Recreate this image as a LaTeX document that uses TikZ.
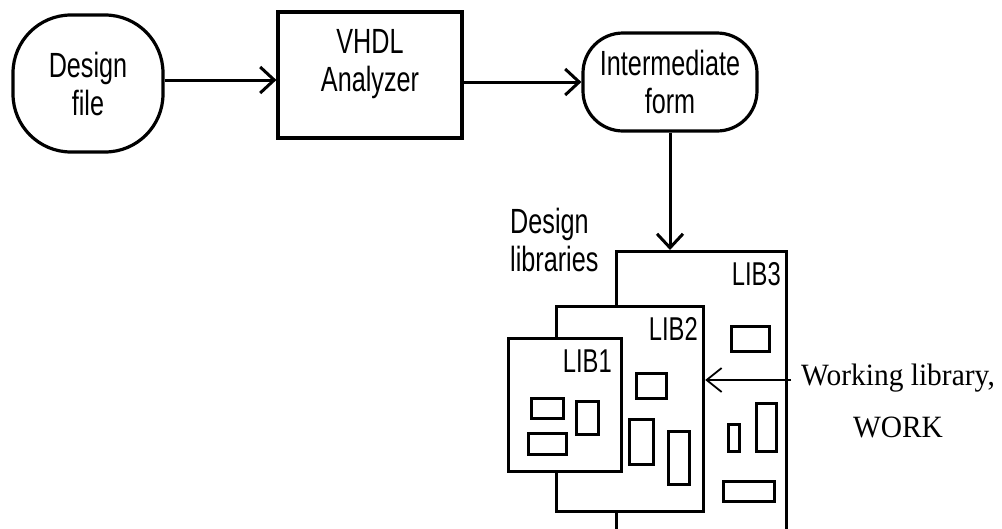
\documentclass[tikz,border=0pt]{standalone}
\usepackage{fontspec}
\usetikzlibrary{arrows.meta}
\newfontfamily\sfcond[FakeStretch=0.72]{Liberation Sans}
\newfontfamily\serifw[FakeStretch=0.95]{Liberation Serif}
\tikzset{
  lbl/.style={font=\sfcond\fontsize{35}{38}\selectfont, align=center, inner sep=0pt},
  shapebox/.style={draw, line width=3.2pt, fill=white, inner sep=0pt},
  libbox/.style={draw, line width=3.2pt, fill=white, inner sep=0pt, anchor=north west},
  item/.style={draw, line width=2.8pt, inner sep=0pt, anchor=north west},
  flow/.style={line width=3pt, -{Straight Barb[length=14pt, width=26pt]}},
  thinflow/.style={line width=1.8pt, -{Straight Barb[length=15pt, width=24pt]}},
  liblbl/.style={font=\sfcond\fontsize{33}{36}\selectfont, inner sep=0pt, anchor=base east},
}
\begin{document}
\begin{tikzpicture}[x=1pt,y=-1pt]
\useasboundingbox (0,0) rectangle (1002,528);
\clip (0,0) rectangle (1002,528);

% Top row
\node (design) [shapebox, rounded corners=58pt, minimum width=150pt, minimum height=137pt, lbl] at (88,83.5) {Design\\file};
\node (vhdl) [shapebox, minimum width=184pt, minimum height=126pt] at (370,75) {};
\node (vhdltxt) [lbl] at (370,64) {VHDL\\Analyzer};
\node (inter) [shapebox, rounded corners=40pt, minimum width=174pt, minimum height=98pt, lbl] at (670,82) {Intermediate\\form};

% Libraries
\node (lib3) [libbox, minimum width=170pt, minimum height=300pt] at (615,250) {};
\node (lib2) [libbox, minimum width=147pt, minimum height=205pt] at (555,305) {};
\node (lib1) [libbox, minimum width=113pt, minimum height=133pt] at (507,337) {};

\node (l3) [liblbl] at (781,285) {LIB3};
\node (l2) [liblbl] at (698,340) {LIB2};
\node (l1) [liblbl] at (612,372) {LIB1};

% items LIB1
\node (a1) [item, minimum width=32pt, minimum height=20pt] at (530,397) {};
\node (a2) [item, minimum width=22pt, minimum height=33pt] at (575,400) {};
\node (a3) [item, minimum width=38pt, minimum height=21pt] at (527,432) {};
% items LIB2
\node (b1) [item, minimum width=30pt, minimum height=25pt] at (635,372) {};
\node (b2) [item, minimum width=24pt, minimum height=45pt] at (628,418) {};
\node (b3) [item, minimum width=21pt, minimum height=53pt] at (667,430) {};
% items LIB3
\node (c1) [item, minimum width=38pt, minimum height=25pt] at (730,325) {};
\node (c2) [item, minimum width=11pt, minimum height=27pt] at (727,423) {};
\node (c3) [item, minimum width=20pt, minimum height=48pt] at (755,402) {};
\node (c4) [item, minimum width=51pt, minimum height=20pt] at (722,480) {};

\node (dlib) [lbl, align=left, anchor=north west] at (510,208) {Design\\libraries};

\node (work) [font=\serifw\fontsize{31}{52}\selectfont, align=center, inner sep=0pt, anchor=base] at (898,437) {Working library,\\WORK};
\coordinate (wk) at (791,380);

% Connectors
\draw[flow] (design.east |- 0,80) -- (vhdl.west |- 0,80);
\draw[flow] (inter.west -| vhdl.east) -- (inter.west);
\draw[flow] (inter.south) -- (inter.south |- lib3.north);
\draw[thinflow] (wk) -- (wk -| lib2.east);
\end{tikzpicture}
\end{document}
